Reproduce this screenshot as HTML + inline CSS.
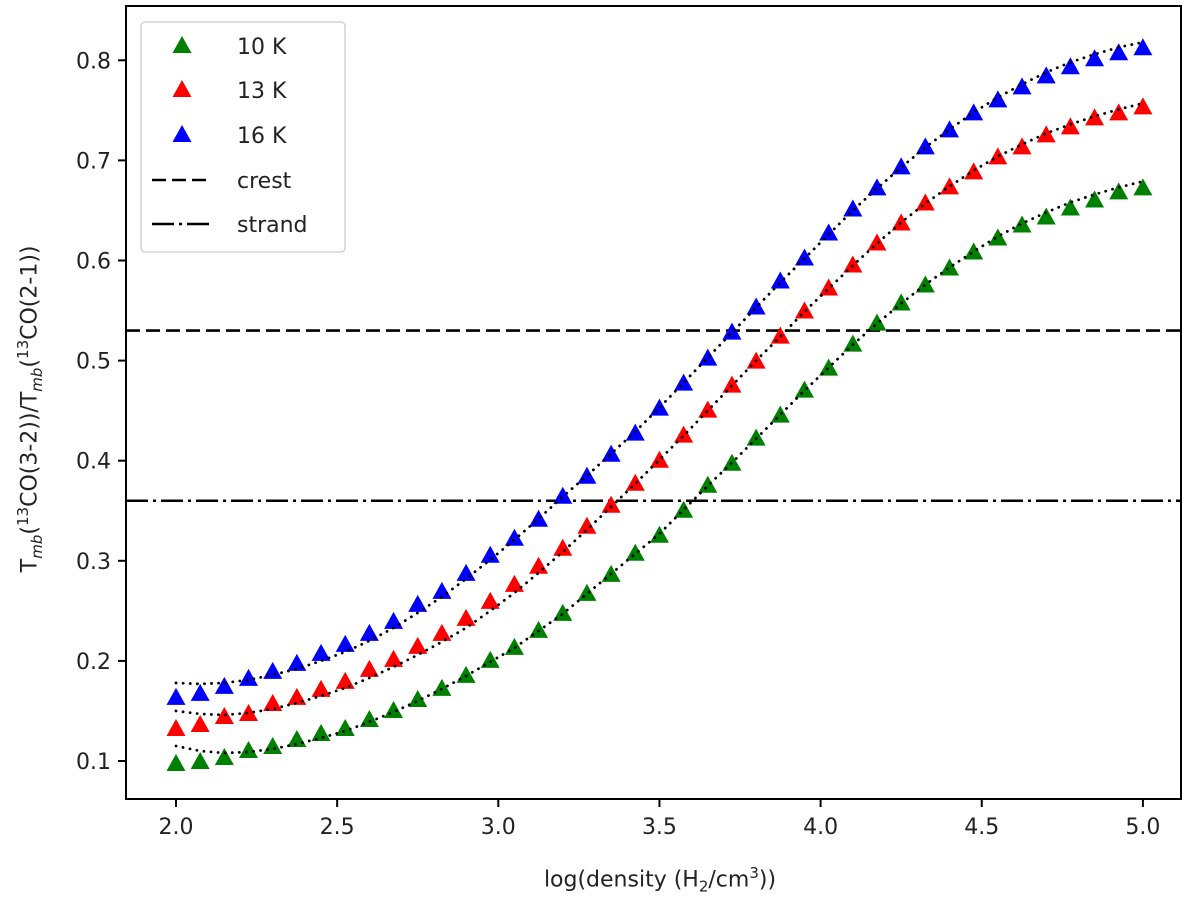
<!DOCTYPE html>
<html><head><meta charset="utf-8"><style>
html,body{margin:0;padding:0;background:#fff;}
svg{display:block;font-family:"DejaVu Sans","Liberation Sans",sans-serif;}
</style></head><body>
<svg id="chart" width="1200" height="906" viewBox="0 0 1200 906">
<rect x="0" y="0" width="1200" height="906" fill="#fff"/>
<g id="plot"></g>
<g id="axes"></g>
</svg>
<script>
const xStart = 2.0, xStep = 0.075;
const xTicks = [2.0, 2.5, 3.0, 3.5, 4.0, 4.5, 5.0];
const xTickLabels = ["2.0","2.5","3.0","3.5","4.0","4.5","5.0"];
const yTicks = [0.1,0.2,0.3,0.4,0.5,0.6,0.7,0.8];
const yTickLabels = ["0.1","0.2","0.3","0.4","0.5","0.6","0.7","0.8"];
const green10K = [0.097,0.099,0.103,0.110,0.114,0.121,0.127,0.132,0.141,0.150,0.161,0.172,0.185,0.200,0.213,0.230,0.247,0.267,0.286,0.307,0.325,0.350,0.375,0.397,0.422,0.445,0.470,0.492,0.516,0.537,0.557,0.575,0.592,0.608,0.622,0.635,0.643,0.652,0.660,0.668,0.672];
const red13K = [0.132,0.136,0.144,0.147,0.157,0.163,0.171,0.179,0.191,0.201,0.214,0.227,0.242,0.259,0.276,0.294,0.312,0.334,0.355,0.377,0.400,0.425,0.450,0.475,0.499,0.524,0.549,0.572,0.595,0.617,0.637,0.657,0.673,0.688,0.703,0.713,0.725,0.733,0.742,0.747,0.753];
const blue16K = [0.163,0.167,0.174,0.182,0.189,0.197,0.207,0.216,0.227,0.239,0.256,0.269,0.287,0.305,0.322,0.341,0.364,0.384,0.406,0.427,0.452,0.477,0.502,0.528,0.553,0.579,0.602,0.627,0.651,0.672,0.693,0.713,0.730,0.747,0.760,0.773,0.784,0.793,0.801,0.807,0.812];
const greenFit = [0.115,0.110,0.108,0.109,0.112,0.117,0.123,0.130,0.139,0.149,0.160,0.172,0.185,0.199,0.213,0.230,0.247,0.267,0.287,0.307,0.327,0.351,0.375,0.398,0.422,0.446,0.470,0.493,0.516,0.537,0.557,0.576,0.593,0.609,0.624,0.637,0.648,0.658,0.666,0.673,0.679];
const redFit = [0.150,0.147,0.146,0.148,0.152,0.158,0.165,0.173,0.183,0.194,0.206,0.219,0.233,0.250,0.268,0.288,0.309,0.331,0.354,0.377,0.401,0.425,0.450,0.475,0.500,0.524,0.549,0.572,0.595,0.617,0.638,0.657,0.674,0.690,0.704,0.716,0.727,0.736,0.744,0.751,0.757];
const blueFit = [0.178,0.177,0.178,0.181,0.186,0.192,0.200,0.209,0.220,0.233,0.248,0.264,0.282,0.301,0.321,0.342,0.364,0.385,0.407,0.429,0.453,0.478,0.503,0.528,0.553,0.578,0.602,0.626,0.650,0.672,0.693,0.713,0.731,0.748,0.763,0.776,0.788,0.798,0.806,0.813,0.818];
const crestValue = 0.53, strandValue = 0.36;
const legendLabels = ["10 K","13 K","16 K","crest","strand"];

const NS = "http://www.w3.org/2000/svg";
const L = 126, R = 1181, T = 6, B = 799;
function xs(v){ return 176 + (v - 2.0) * 322.3; }
function ys(v){ return 761 - (v - 0.1) * 1001; }
function mk(tag, attrs, parent){ const e=document.createElementNS(NS,tag); for(const k in attrs) e.setAttribute(k,attrs[k]); parent.appendChild(e); return e; }
const plot = document.getElementById('plot');
const axes = document.getElementById('axes');

let crest = mk('line',{x1:L,x2:R,y1:ys(crestValue),y2:ys(crestValue),stroke:'#000','stroke-width':2.6,'stroke-dasharray':'14,6'},plot);


let strand = mk('line',{x1:L,x2:R,y1:ys(strandValue),y2:ys(strandValue),stroke:'#000','stroke-width':2.6,'stroke-dasharray':'22,5,3,5'},plot);



function tri(cx, cy, color, parent){
  return mk('polygon',{points:(cx-9.5)+','+(cy+7)+' '+(cx+9.5)+','+(cy+7)+' '+cx+','+(cy-10),fill:color},parent);
}
const series = [["10k",green10K,greenFit,"#008000"],["13k",red13K,redFit,"#ff0000"],["16k",blue16K,blueFit,"#0000ff"]];
series.forEach(s=>{
  const g = mk('g',{},plot);
  
  
  s[1].forEach((v,i)=>{
    const p = tri(xs(xStart+i*xStep), ys(v), s[3], g);
    
    
  });
});
series.forEach(s=>{
  const pts = s[2].map((v,i)=>xs(xStart+i*xStep)+','+ys(v)).join(' ');
  const pl = mk('polyline',{points:pts,fill:'none',stroke:'#000','stroke-width':2.8,'stroke-dasharray':'0.1,7','stroke-linecap':'round'},plot);
  
  
});

const frame = mk('rect',{x:L,y:T,width:R-L,height:B-T,fill:'none',stroke:'#000','stroke-width':2},axes);


xTicks.forEach((t,i)=>{
  const x = xs(t);
  const tk = mk('line',{x1:x,x2:x,y1:B,y2:B+8,stroke:'#000','stroke-width':2},axes);
  
  
  const tx = mk('text',{x:x,y:B+35,'font-size':22,'text-anchor':'middle',fill:'#222'},axes);
  tx.textContent = xTickLabels[i];
  
  
});
yTicks.forEach((t,i)=>{
  const y = ys(t);
  const tk = mk('line',{x1:L-8,x2:L,y1:y,y2:y,stroke:'#000','stroke-width':2},axes);
  
  
  const tx = mk('text',{x:111,y:y+8,'font-size':22,'text-anchor':'end',fill:'#222'},axes);
  tx.textContent = yTickLabels[i];
  
  
});

const lg = mk('g',{},axes);


mk('rect',{x:141,y:22,width:204,height:230,rx:4,fill:'#fff','fill-opacity':0.85,stroke:'#ccc','stroke-width':1.3},lg);
const rowsY = [46,90,135,180,224];
const colors = ["#008000","#ff0000","#0000ff"];
legendLabels.forEach((lab,i)=>{
  const y = rowsY[i];
  if(i<3){ const p=tri(182,y,colors[i],lg);   }
  else {
    const ln = mk('line',{x1:152,x2:212,y1:y,y2:y,stroke:'#000','stroke-width':2.6,'stroke-dasharray':i===3?'14,6':'22,5,3,5'},lg);
    
    
  }
  const tx = mk('text',{x:237,y:y+8,'font-size':22,fill:'#222'},lg);
  tx.textContent = lab;
  
  
});
</script>
<div style="position:absolute;left:0;top:0;width:1200px;height:906px;pointer-events:none;font-family:'DejaVu Sans','Liberation Sans',sans-serif;color:#222;">
<div style="position:absolute;left:480px;top:864px;width:360px;text-align:center;font-size:22px;">log(density (H<sub style="font-size:15px">2</sub>/cm<sup style="font-size:15px">3</sup>))</div>
<div style="position:absolute;left:30px;top:402px;width:700px;margin-left:-350px;text-align:center;font-size:22px;line-height:26px;transform:translate(0,-13px) rotate(-90deg);white-space:nowrap;">T<sub style="font-size:15px"><i>mb</i></sub>(<sup style="font-size:15px">13</sup>CO(3-2))/T<sub style="font-size:15px"><i>mb</i></sub>(<sup style="font-size:15px">13</sup>CO(2-1))</div>
</div>
</body></html>
